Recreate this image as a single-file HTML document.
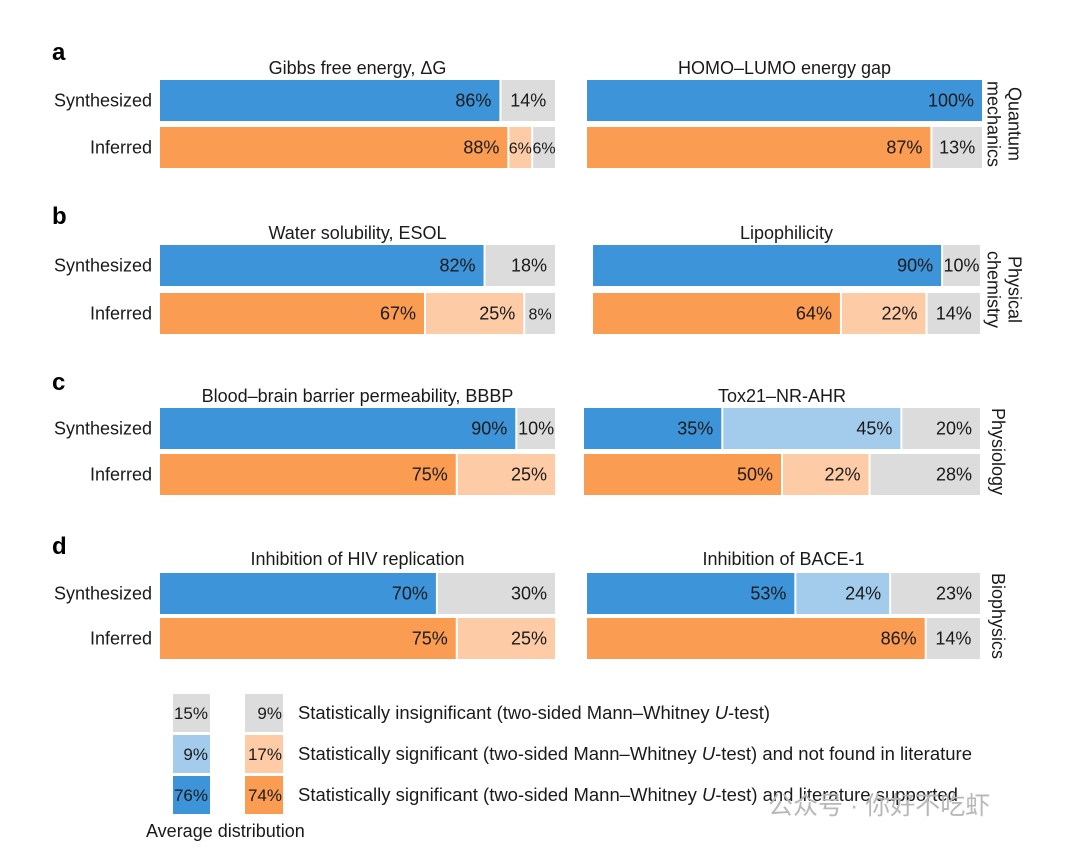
<!DOCTYPE html>
<html><head><meta charset="utf-8"><style>
html,body{margin:0;padding:0;background:#fff;}
svg{display:block;font-family:"Liberation Sans","Noto Sans CJK SC",sans-serif;}
</style></head><body>
<svg id="chart" width="1080" height="850" viewBox="0 0 1080 850"></svg>
<script>
const NS="http://www.w3.org/2000/svg";
const panelLetters=["a","b","c","d"];
const sideLabels=[["Quantum","mechanics"],["Physical","chemistry"],["Physiology"],["Biophysics"]];
const titles=["Gibbs free energy, ΔG","HOMO–LUMO energy gap","Water solubility, ESOL","Lipophilicity","Blood–brain barrier permeability, BBBP","Tox21–NR-AHR","Inhibition of HIV replication","Inhibition of BACE-1"];
// [significant+literature, significant not found, insignificant]
const synthVals=[[86,0,14],[100,0,0],[82,0,18],[90,0,10],[90,0,10],[35,45,20],[70,0,30],[53,24,23]];
const inferVals=[[88,6,6],[87,0,13],[67,25,8],[64,22,14],[75,25,0],[50,22,28],[75,25,0],[86,0,14]];
const rowLabels=["Synthesized","Inferred"];
const legendAvgBlue=["15%","9%","76%"];
const legendAvgOrange=["9%","17%","74%"];
const legendText=["Statistically insignificant (two-sided Mann–Whitney |U|-test)","Statistically significant (two-sided Mann–Whitney |U|-test) and not found in literature","Statistically significant (two-sided Mann–Whitney |U|-test) and literature supported"];

const blueCols=["#3d94d9","#a3cbec","#dcdcdc"];
const orCols=["#fa9c52","#fdcba6","#dcdcdc"];
const svg=document.getElementById('chart');
function el(t,a,p){const e=document.createElementNS(NS,t);for(const k in a)e.setAttribute(k,a[k]);(p||svg).appendChild(e);return e;}
function txt(x,y,s,a,p){const t=el('text',Object.assign({x:x,y:y,'font-size':18,fill:'#1a1a1a'},a||{}),p);t.textContent=s;return t;}

const rowTops=[[80,127],[245,293],[408,454],[573,618]];
const rowH=41;
const leftX=[160,555];
const rightX=[[587,982],[593,980],[584,980],[587,980]];
const titleY=[74,239,402,565];
const letterY=[60,224,390,554];

function xScale(x0,x1,v){return x0+(x1-x0)*v/100;}
function drawBar(g,x0,x1,y,vals,cols){
  let acc=0;
  vals.forEach((v,i)=>{
    if(v<=0)return;
    const xa=xScale(x0,x1,acc), xb=xScale(x0,x1,acc+v);acc+=v;
    const w=Math.max(0,xb-xa-2);
    const r=el('rect',{x:xa,y:y,width:w,height:rowH,fill:cols[i]},g);
    
    
    const narrow=w<60;
    const t=txt(narrow?xa+w/2:xb-10,y+rowH/2+6,v+'%',{'text-anchor':narrow?'middle':'end','font-size':narrow&&w<35?16:18},g);
    
    
  });
}
for(let p=0;p<4;p++){
  const g=el('g',{});
  
  
  const L=txt(52,letterY[p],panelLetters[p],{'font-size':24,'font-weight':'bold',fill:'#000'},g);
  
  rowLabels.forEach((lab,r)=>{
    const t=txt(152,rowTops[p][r]+rowH/2+6,lab,{'text-anchor':'end'},g);
    
  });
  for(let s=0;s<2;s++){
    const idx=p*2+s;
    const x0=s==0?leftX[0]:rightX[p][0], x1=s==0?leftX[1]:rightX[p][1];
    const sub=el('g',{},g);
    
    const tt=txt((x0+x1)/2,titleY[p],titles[idx],{'text-anchor':'middle'},sub);
    
    drawBar(sub,x0,x1+2,rowTops[p][0],synthVals[idx],blueCols);
    drawBar(sub,x0,x1+2,rowTops[p][1],inferVals[idx],orCols);
  }
  const cy=(rowTops[p][0]+rowTops[p][1]+rowH)/2;
  const sl=sideLabels[p];
  const vg=el('g',{transform:'translate('+(sl.length>1?1004:998)+','+cy+') rotate(90)'},g);
  
  sl.forEach((s,i)=>{txt(0,(i-(sl.length-1)/2)*21+6,s,{'text-anchor':'middle'},vg);});
}
// legend
const lg=el('g',{});

const lgCol1=["#dcdcdc","#a3cbec","#3d94d9"], lgCol2=["#dcdcdc","#fdcba6","#fa9c52"];
for(let i=0;i<3;i++){
  const y=694+i*41;
  el('rect',{x:173,y:y,width:37,height:38,fill:lgCol1[i]},lg);
  el('rect',{x:245,y:y,width:38,height:38,fill:lgCol2[i]},lg);
  txt(208,y+25,legendAvgBlue[i],{'text-anchor':'end','font-size':17},lg);
  txt(282,y+25,legendAvgOrange[i],{'text-anchor':'end','font-size':17},lg);
  const parts=legendText[i].split('|');
  const t=el('text',{x:298,y:y+25,'font-size':18,fill:'#1a1a1a',textLength:i==0?472:(i==1?674:660),lengthAdjust:'spacingAndGlyphs'},lg);
  
  parts.forEach((s,j)=>{const ts=el('tspan',j==1?{'font-style':'italic'}:{},t);ts.textContent=s;});
}
const ad=txt(146,837,"Average distribution",{'font-size':18},lg);

const wm=txt(768,814,"公众号 · 你好不吃虾",{'font-size':25,fill:'#b8b8b8'});

</script>
</body></html>
